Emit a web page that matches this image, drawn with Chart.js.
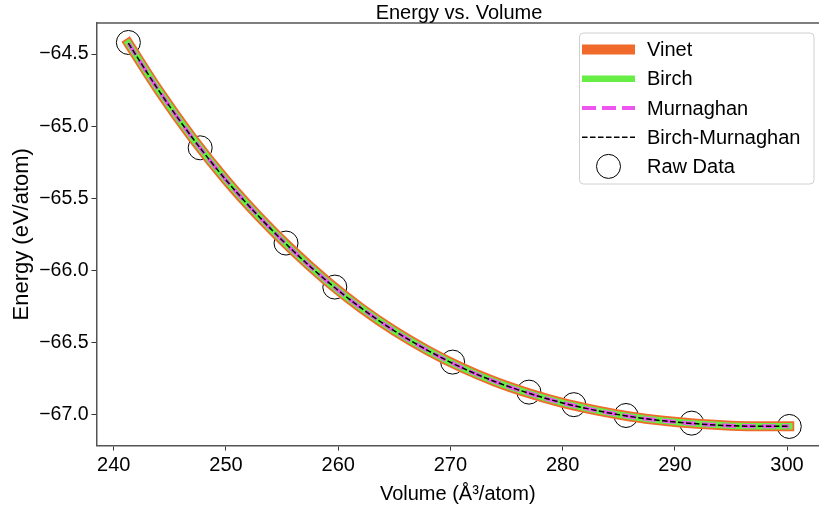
<!DOCTYPE html>
<html>
<head>
<meta charset="utf-8">
<script src="https://cdn.jsdelivr.net/npm/chart.js@4.4.1/dist/chart.umd.min.js"></script>
<style>
  html, body { margin: 0; padding: 0; background: #fff; overflow: hidden; }
</style>
</head>
<body>
<canvas id="eosChart" width="819" height="512"></canvas>
<script>
// raw points
const rawVolume = [241.3, 247.7, 255.35, 259.7, 270.2, 277.0, 281.0, 285.65, 291.5, 300.2];
const rawEnergy = [-64.42, -65.15, -65.81, -66.115, -66.635, -66.843, -66.93, -67.005, -67.058, -67.081];

// fitted curves - the four fits lie on top of each other
const fitVolume = [241.3, 244, 247, 250, 253, 256, 259, 262, 265, 268, 271, 274, 277, 280, 283, 286, 289, 292, 295, 298, 300.2];
const fitEnergy = [-64.425, -64.752, -65.080, -65.373, -65.632, -65.865, -66.074, -66.258, -66.418, -66.555, -66.673,
                   -66.771, -66.851, -66.918, -66.970, -67.012, -67.042, -67.063, -67.076, -67.080, -67.080];

const xTicks = [240, 250, 260, 270, 280, 290, 300];
const yTicks = [-67.0, -66.5, -66.0, -65.5, -65.0, -64.5];

const FONT = "'Liberation Sans', Arial, sans-serif";

function toPoints(xs, ys) {
    return xs.map((x, i) => ({ x: x, y: ys[i] }));
}

let canvas = document.getElementById("eosChart");
let ctx = canvas.getContext("2d");

function curve(label, color, width, dash, order) {
    return {
        label: label,
        data: toPoints(fitVolume, fitEnergy),
        showLine: true,
        borderColor: color,
        backgroundColor: color,
        borderWidth: width,
        borderDash: dash,
        borderCapStyle: dash.length ? "butt" : "square",
        cubicInterpolationMode: "monotone",
        pointRadius: 0,
        pointHoverRadius: 0,
        order: order
    };
}

const datasets = [
    curve("Vinet", "#f06a2c", 10, [], 4),
    curve("Birch", "#66ee44", 6.5, [], 3),
    curve("Murnaghan", "#ee55ee", 4, [14, 6], 2),
    curve("Birch-Murnaghan", "#000000", 1.5, [5.5, 2.5], 1),
    {
        label: "Raw Data",
        data: toPoints(rawVolume, rawEnergy),
        showLine: false,
        pointRadius: 12,
        pointHoverRadius: 12,
        pointBorderColor: "#000",
        pointBorderWidth: 1,
        pointBackgroundColor: "rgba(0,0,0,0)",
        order: 5
    }
];

// title, top spine and legend box
const extras = {
    id: "extras",
    afterDraw(chart) {
        let c = chart.ctx;
        let area = chart.chartArea;
        c.save();

        // top spine
        c.strokeStyle = "#555";
        c.lineWidth = 1.5;
        c.beginPath();
        c.moveTo(area.left, area.top);
        c.lineTo(area.right, area.top);
        c.stroke();

        // title
        c.fillStyle = "#000";
        c.font = "20px " + FONT;
        c.textAlign = "center";
        c.textBaseline = "alphabetic";
        c.fillText("Energy vs. Volume", 459, 18.5);

        // legend
        let bx = 579.5, by = 33, bw = 234.5, bh = 151;
        c.fillStyle = "rgba(255,255,255,0.85)";
        c.strokeStyle = "#d0d0d0";
        c.lineWidth = 1;
        c.beginPath();
        c.roundRect(bx, by, bw, bh, 4);
        c.fill();
        c.stroke();

        let hx0 = 582, hx1 = 635, tx = 647;
        chart.data.datasets.forEach((ds, i) => {
            let y = 49.6 + i * 29.2;
            if (ds.showLine) {
                let inset = ds.borderCapStyle === "square" ? ds.borderWidth / 2 : 0;
                c.strokeStyle = ds.borderColor;
                c.lineWidth = ds.borderWidth;
                c.setLineDash(ds.borderDash);
                c.lineCap = ds.borderCapStyle;
                c.beginPath();
                c.moveTo(hx0 + inset, y);
                c.lineTo(hx1 - inset, y);
                c.stroke();
                c.setLineDash([]);
            } else {
                c.strokeStyle = "#000";
                c.lineWidth = 1;
                c.beginPath();
                c.arc((hx0 + hx1) / 2, y, 12, 0, Math.PI * 2);
                c.stroke();
            }
            c.fillStyle = "#000";
            c.font = "20px " + FONT;
            c.textAlign = "left";
            c.textBaseline = "middle";
            c.fillText(ds.label, tx, y + 1);
        });
        c.restore();
    }
};

let chart = new Chart(ctx, {
    type: "scatter",
    data: { datasets: datasets },
    options: {
        responsive: false,
        animation: false,
        devicePixelRatio: 1,
        // no extra room for the big markers, plot area goes to the right edge
        layout: { autoPadding: false, padding: { top: 23, right: 0, bottom: 0, left: 0 } },
        plugins: {
            legend: { display: false },
            tooltip: { enabled: false },
            title: { display: false }
        },
        scales: {
            x: {
                type: "linear",
                min: 238.46,
                max: 302.85,
                afterBuildTicks: s => { s.ticks = xTicks.map(v => ({ value: v })); },
                afterFit: s => {
                    s.height = 66.5;
                    s.paddingLeft = 0;
                    s.paddingRight = 0;
                },
                grid: { drawOnChartArea: false, drawTicks: true, tickLength: 5, tickColor: "#333", tickWidth: 1 },
                border: { display: true, color: "#555", width: 1.5 },
                ticks: {
                    font: { family: FONT, size: 20 },
                    color: "#000",
                    padding: 3,
                    maxRotation: 0,
                    autoSkip: false,
                    callback: v => String(v)
                },
                title: {
                    display: true,
                    text: "Volume (Å³/atom)",
                    font: { family: FONT, size: 20 },
                    color: "#000",
                    padding: { top: 0, bottom: 6 }
                }
            },
            y: {
                type: "linear",
                min: -67.213,
                max: -64.285,
                afterBuildTicks: s => { s.ticks = yTicks.map(v => ({ value: v })); },
                afterFit: s => {
                    s.width = 96.5;
                    s.paddingTop = 0;
                    s.paddingBottom = 0;
                },
                grid: { drawOnChartArea: false, drawTicks: true, tickLength: 5, tickColor: "#333", tickWidth: 1 },
                border: { display: true, color: "#555", width: 1.5 },
                ticks: {
                    font: { family: FONT, size: 19.5 },
                    color: "#000",
                    padding: 3,
                    autoSkip: false,
                    callback: v => v.toFixed(1).replace("-", "\u2212")
                },
                title: {
                    display: true,
                    text: "Energy (eV/atom)",
                    font: { family: FONT, size: 22 },
                    color: "#000",
                    padding: { top: 9, bottom: 0 }
                }
            }
        }
    },
    plugins: [extras]
});
</script>
</body>
</html>
